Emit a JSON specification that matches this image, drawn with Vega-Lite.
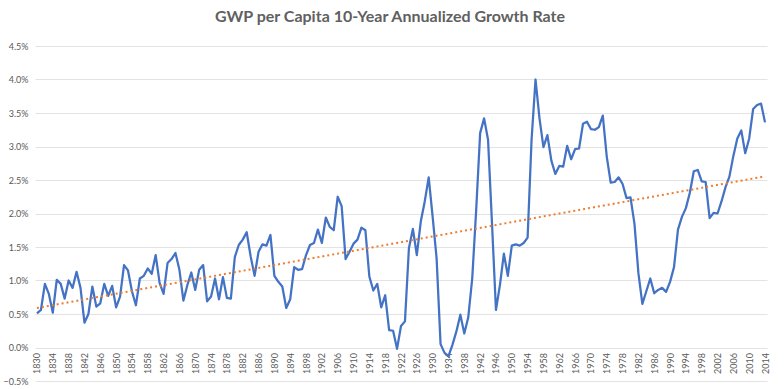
{
  "$schema": "https://vega.github.io/schema/vega-lite/v6.json",
  "autosize": {"type": "none"},
  "width": 732,
  "height": 335,
  "padding": {"left": 35, "top": 46, "right": 17, "bottom": 8},
  "background": "white",
  "title": {
    "text": "GWP per Capita 10-Year Annualized Growth Rate",
    "font": "Lato",
    "fontSize": 16,
    "fontWeight": "bold",
    "color": "#606060",
    "anchor": "middle",
    "frame": "group",
    "dx": -11,
    "offset": 17
  },
  "config": {
    "view": {"stroke": null},
    "font": "Lato"
  },
  "data": {
    "values": [
      {"year":1830,"g":0.51},{"year":1831,"g":0.56},{"year":1832,"g":0.95},{"year":1833,"g":0.80},{"year":1834,"g":0.52},
      {"year":1835,"g":1.01},{"year":1836,"g":0.95},{"year":1837,"g":0.73},{"year":1838,"g":1.00},{"year":1839,"g":0.89},
      {"year":1840,"g":1.13},{"year":1841,"g":0.89},{"year":1842,"g":0.37},{"year":1843,"g":0.50},{"year":1844,"g":0.91},
      {"year":1845,"g":0.61},{"year":1846,"g":0.66},{"year":1847,"g":0.95},{"year":1848,"g":0.77},{"year":1849,"g":0.92},
      {"year":1850,"g":0.60},{"year":1851,"g":0.76},{"year":1852,"g":1.23},{"year":1853,"g":1.15},{"year":1854,"g":0.84},
      {"year":1855,"g":0.63},{"year":1856,"g":1.03},{"year":1857,"g":1.07},{"year":1858,"g":1.18},{"year":1859,"g":1.10},
      {"year":1860,"g":1.38},{"year":1861,"g":0.96},{"year":1862,"g":0.80},{"year":1863,"g":1.26},{"year":1864,"g":1.32},
      {"year":1865,"g":1.41},{"year":1866,"g":1.16},{"year":1867,"g":0.70},{"year":1868,"g":0.93},{"year":1869,"g":1.12},
      {"year":1870,"g":0.86},{"year":1871,"g":1.16},{"year":1872,"g":1.23},{"year":1873,"g":0.69},{"year":1874,"g":0.76},
      {"year":1875,"g":1.03},{"year":1876,"g":0.72},{"year":1877,"g":1.05},{"year":1878,"g":0.74},{"year":1879,"g":0.73},
      {"year":1880,"g":1.35},{"year":1881,"g":1.53},{"year":1882,"g":1.61},{"year":1883,"g":1.72},{"year":1884,"g":1.36},
      {"year":1885,"g":1.07},{"year":1886,"g":1.43},{"year":1887,"g":1.54},{"year":1888,"g":1.52},{"year":1889,"g":1.68},
      {"year":1890,"g":1.07},{"year":1891,"g":0.98},{"year":1892,"g":0.91},{"year":1893,"g":0.59},{"year":1894,"g":0.72},
      {"year":1895,"g":1.20},{"year":1896,"g":1.16},{"year":1897,"g":1.17},{"year":1898,"g":1.38},{"year":1899,"g":1.53},
      {"year":1900,"g":1.56},{"year":1901,"g":1.76},{"year":1902,"g":1.56},{"year":1903,"g":1.94},{"year":1904,"g":1.80},
      {"year":1905,"g":1.75},{"year":1906,"g":2.25},{"year":1907,"g":2.11},{"year":1908,"g":1.32},{"year":1909,"g":1.43},
      {"year":1910,"g":1.55},{"year":1911,"g":1.61},{"year":1912,"g":1.79},{"year":1913,"g":1.75},{"year":1914,"g":1.06},
      {"year":1915,"g":0.85},{"year":1916,"g":0.95},{"year":1917,"g":0.60},{"year":1918,"g":0.78},{"year":1919,"g":0.26},
      {"year":1920,"g":0.25},{"year":1921,"g":-0.02},{"year":1922,"g":0.32},{"year":1923,"g":0.39},{"year":1924,"g":1.48},
      {"year":1925,"g":1.77},{"year":1926,"g":1.38},{"year":1927,"g":1.88},{"year":1928,"g":2.18},{"year":1929,"g":2.54},
      {"year":1930,"g":1.95},{"year":1931,"g":1.33},{"year":1932,"g":0.05},{"year":1933,"g":-0.08},{"year":1934,"g":-0.13},
      {"year":1935,"g":0.04},{"year":1936,"g":0.24},{"year":1937,"g":0.49},{"year":1938,"g":0.21},{"year":1939,"g":0.45},
      {"year":1940,"g":1.03},{"year":1941,"g":2.05},{"year":1942,"g":3.20},{"year":1943,"g":3.42},{"year":1944,"g":3.10},
      {"year":1945,"g":1.85},{"year":1946,"g":0.56},{"year":1947,"g":0.93},{"year":1948,"g":1.40},{"year":1949,"g":1.07},
      {"year":1950,"g":1.52},{"year":1951,"g":1.54},{"year":1952,"g":1.52},{"year":1953,"g":1.56},{"year":1954,"g":1.64},
      {"year":1955,"g":3.10},{"year":1956,"g":4.00},{"year":1957,"g":3.42},{"year":1958,"g":2.99},{"year":1959,"g":3.17},
      {"year":1960,"g":2.79},{"year":1961,"g":2.59},{"year":1962,"g":2.71},{"year":1963,"g":2.70},{"year":1964,"g":3.01},
      {"year":1965,"g":2.81},{"year":1966,"g":2.96},{"year":1967,"g":2.97},{"year":1968,"g":3.34},{"year":1969,"g":3.37},
      {"year":1970,"g":3.26},{"year":1971,"g":3.25},{"year":1972,"g":3.29},{"year":1973,"g":3.46},{"year":1974,"g":2.85},
      {"year":1975,"g":2.46},{"year":1976,"g":2.47},{"year":1977,"g":2.54},{"year":1978,"g":2.44},{"year":1979,"g":2.23},
      {"year":1980,"g":2.24},{"year":1981,"g":1.85},{"year":1982,"g":1.11},{"year":1983,"g":0.65},{"year":1984,"g":0.84},
      {"year":1985,"g":1.03},{"year":1986,"g":0.81},{"year":1987,"g":0.86},{"year":1988,"g":0.89},{"year":1989,"g":0.83},
      {"year":1990,"g":0.98},{"year":1991,"g":1.20},{"year":1992,"g":1.76},{"year":1993,"g":1.95},{"year":1994,"g":2.08},
      {"year":1995,"g":2.31},{"year":1996,"g":2.63},{"year":1997,"g":2.65},{"year":1998,"g":2.48},{"year":1999,"g":2.47},
      {"year":2000,"g":1.93},{"year":2001,"g":2.01},{"year":2002,"g":2.00},{"year":2003,"g":2.18},{"year":2004,"g":2.39},
      {"year":2005,"g":2.55},{"year":2006,"g":2.86},{"year":2007,"g":3.12},{"year":2008,"g":3.24},{"year":2009,"g":2.90},
      {"year":2010,"g":3.12},{"year":2011,"g":3.56},{"year":2012,"g":3.62},{"year":2013,"g":3.64},{"year":2014,"g":3.36}
    ]
  },
  "encoding": {
    "x": {
      "field": "year",
      "type": "quantitative",
      "scale": {"domain": [1829.5, 2014.5], "nice": false, "zero": false},
      "axis": {
        "title": null,
        "values": [1830,1834,1838,1842,1846,1850,1854,1858,1862,1866,1870,1874,1878,1882,1886,1890,1894,1898,1902,1906,1910,1914,1918,1922,1926,1930,1934,1938,1942,1946,1950,1954,1958,1962,1966,1970,1974,1978,1982,1986,1990,1994,1998,2002,2006,2010,2014],
        "format": "d",
        "labelAngle": 270,
        "labelAlign": "right",
        "labelBaseline": "middle",
        "labelFontSize": 9,
        "labelColor": "#595959",
        "labelPadding": 5,
        "labelOverlap": false,
        "labelFlush": false,
        "offset": -33.5,
        "domain": false,
        "ticks": false,
        "grid": false
      }
    },
    "y": {
      "field": "g",
      "type": "quantitative",
      "scale": {"domain": [-0.5, 4.5], "nice": false, "zero": false},
      "axis": {
        "title": null,
        "values": [-0.5,0,0.5,1,1.5,2,2.5,3,3.5,4,4.5],
        "labelExpr": "format(datum.value, '.1f') + '%'",
        "labelFontSize": 9,
        "labelColor": "#595959",
        "labelPadding": 7,
        "domain": false,
        "ticks": false,
        "grid": true,
        "gridColor": "#e3e3e3",
        "gridWidth": 1
      }
    }
  },
  "layer": [
    {
      "mark": {"type": "line", "color": "#4472C4", "strokeWidth": 2.25, "strokeJoin": "round"}
    },
    {
      "transform": [{"regression": "g", "on": "year"}],
      "mark": {"type": "line", "color": "#ED7D31", "strokeWidth": 2, "strokeDash": [2, 3]}
    }
  ]
}
